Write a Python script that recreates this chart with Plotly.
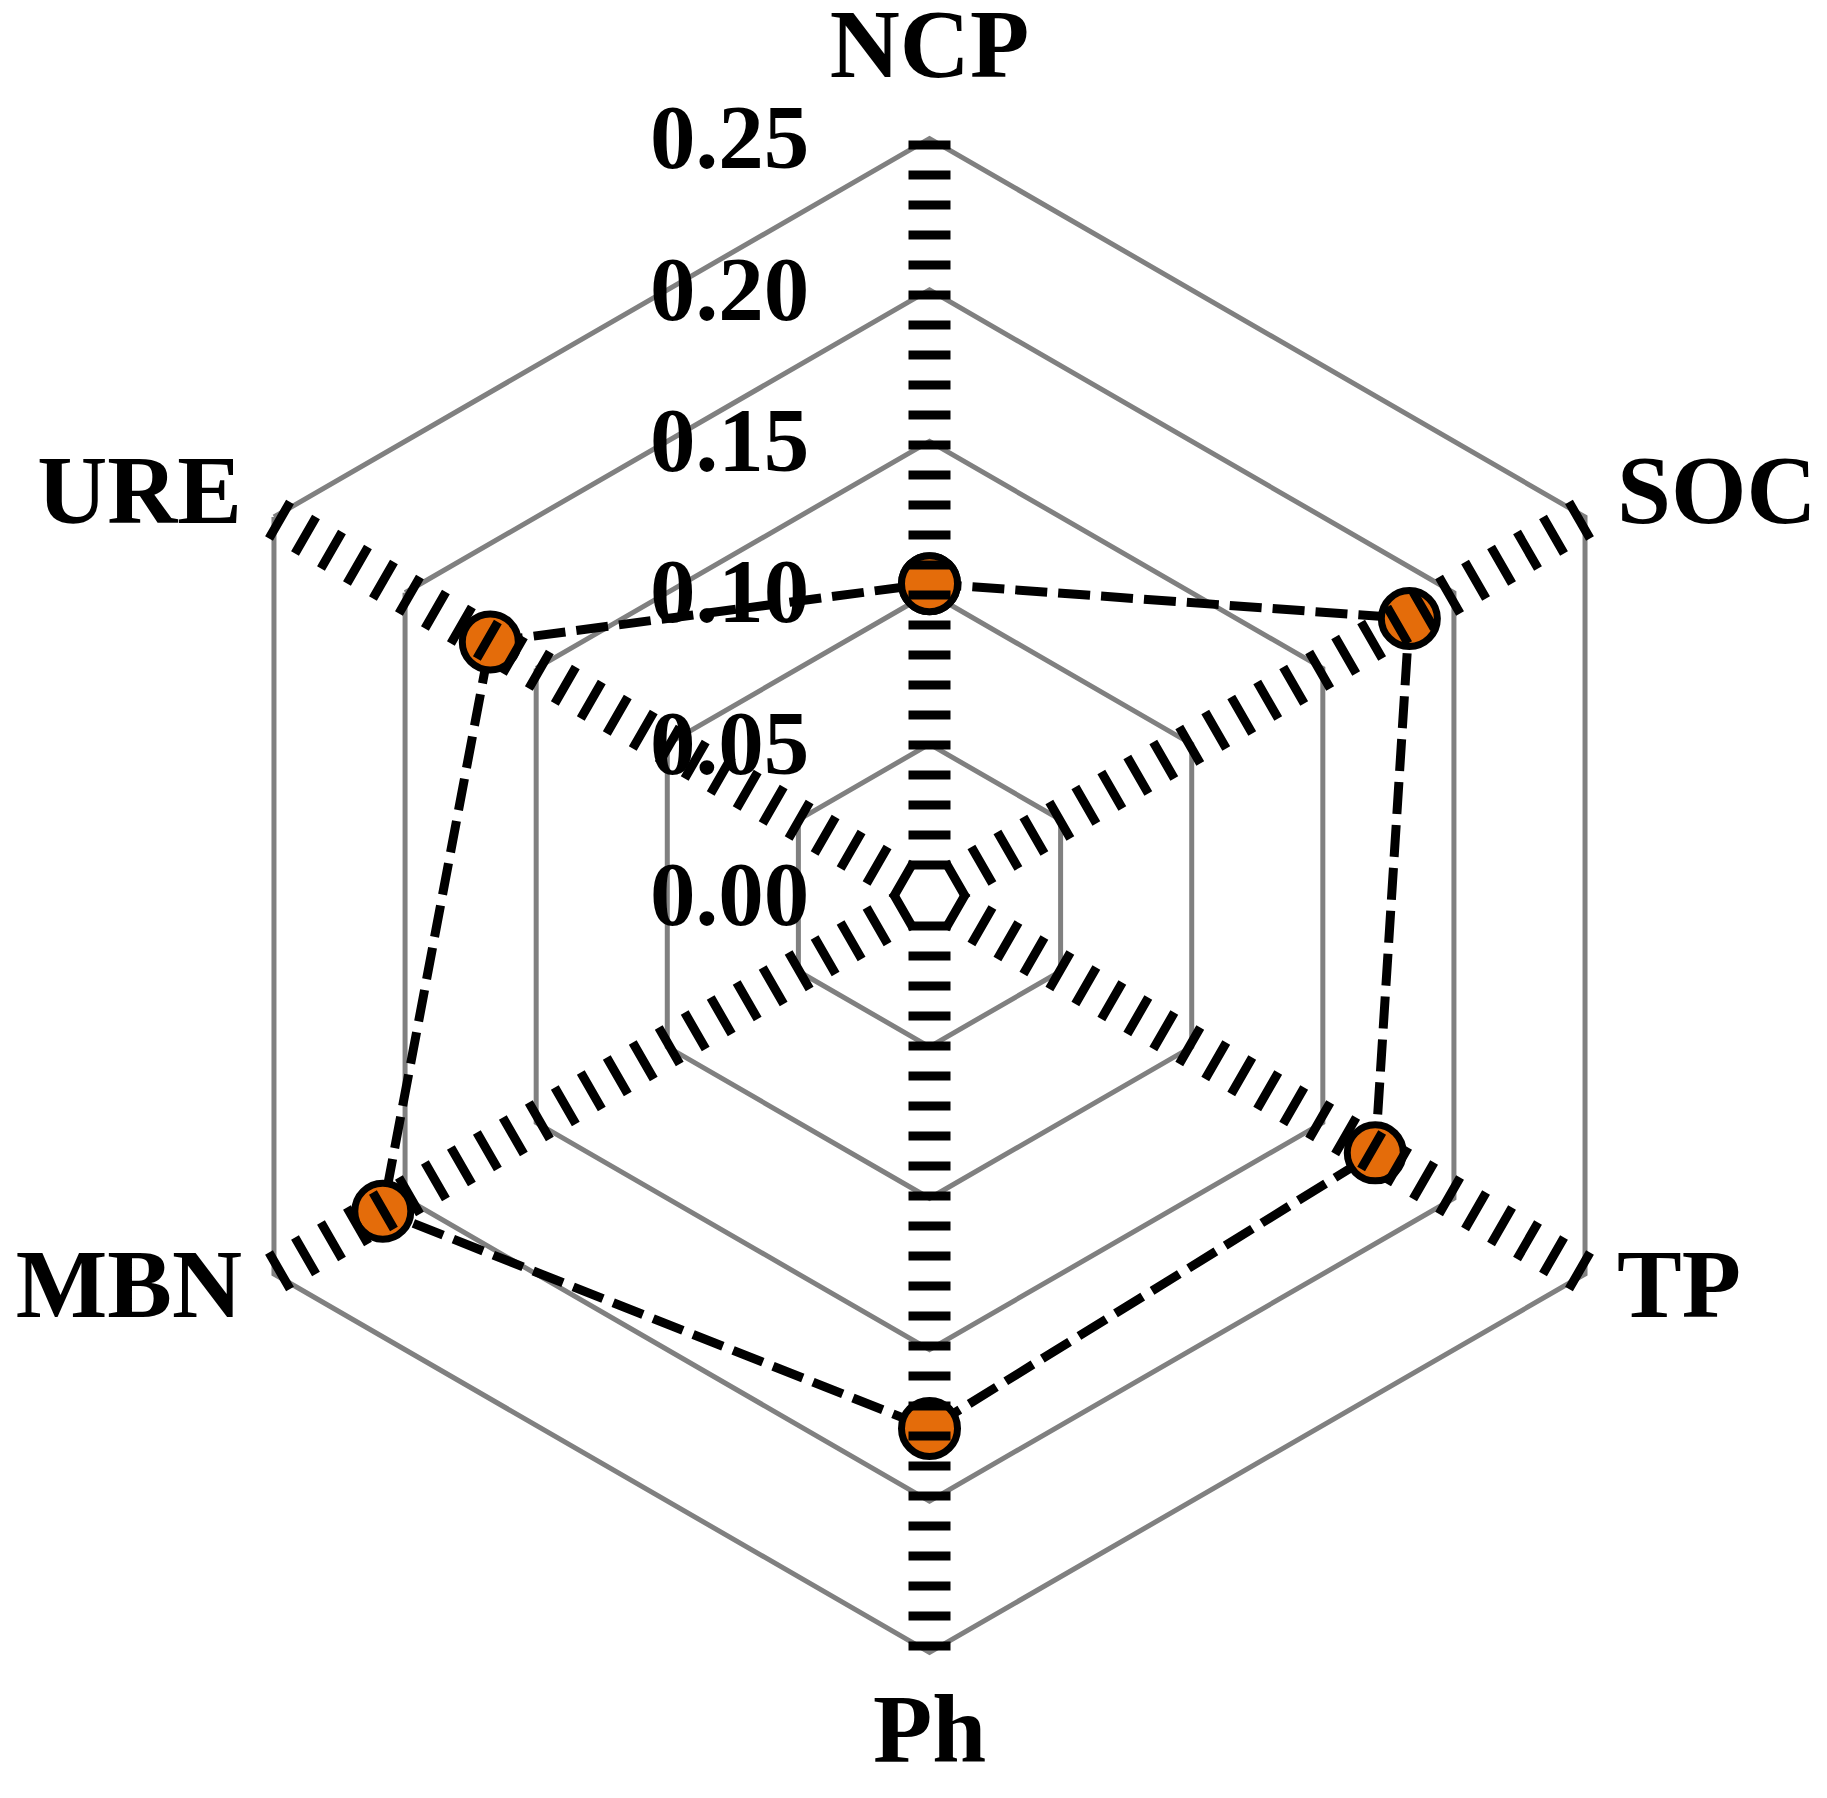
import plotly.graph_objects as go

categories = ["NCP", "SOC", "TP", "Ph", "MBN", "URE"]
values = [0.103, 0.183, 0.170, 0.176, 0.2085, 0.1675]
tick_vals = [0.00, 0.05, 0.10, 0.15, 0.20, 0.25]
tick_text = ["0.00", "0.05", "0.10", "0.15", "0.20", "0.25"]

r_outer = 0.25         # outermost hexagon
r_range_max = 0.27     # room for the category labels
spoke_start = 0.0086   # first dash begins a little off the centre
label_r = 0.2622       # category labels sit just outside the outer hexagon
label_pos = ["top center", "middle right", "middle right",
             "bottom center", "middle left", "middle left"]

FONT = "Liberation Serif, Times New Roman, serif"

fig = go.Figure()

# data trace (closed polygon)
fig.add_trace(go.Scatterpolar(
    r=values + values[:1],
    theta=categories + categories[:1],
    mode="lines+markers",
    line=dict(color="black", width=9, dash="32px,11px"),
    marker=dict(size=56, color="#E46C0A", line=dict(color="black", width=7)),
    showlegend=False,
    hoverinfo="skip",
))

# thick dashed spokes drawn above the data
sr, st = [], []
for c in categories:
    sr += [spoke_start, r_outer, None]
    st += [c, c, None]
fig.add_trace(go.Scatterpolar(
    r=sr, theta=st, mode="lines",
    line=dict(color="black", width=42, dash="9px,21px"),
    showlegend=False, hoverinfo="skip", connectgaps=False,
))

# category labels
fig.add_trace(go.Scatterpolar(
    r=[label_r] * len(categories), theta=categories, mode="text",
    text=categories, textposition=label_pos, cliponaxis=False,
    textfont=dict(family=FONT, size=97, color="black", weight="bold"),
    showlegend=False, hoverinfo="skip",
))

fig.update_layout(
    width=1827, height=1798,
    margin=dict(l=104, r=88, t=70, b=93),
    paper_bgcolor="white",
    plot_bgcolor="white",
    polar=dict(
        bgcolor="rgba(0,0,0,0)",
        gridshape="linear",
        domain=dict(x=[0, 1], y=[0, 1]),
        radialaxis=dict(
            range=[0, r_range_max],
            angle=90,
            side="counterclockwise",
            tickvals=tick_vals,
            ticktext=tick_text,
            tickangle=90,
            showline=False,
            showgrid=True,
            gridcolor="#808080",
            gridwidth=4.5,
            ticks="outside",
            ticklen=88,
            tickcolor="rgba(0,0,0,0)",
            tickfont=dict(family=FONT, size=91, color="black", weight="bold"),
            layer="below traces",
        ),
        angularaxis=dict(
            categoryorder="array",
            categoryarray=categories,
            rotation=90,
            direction="clockwise",
            showgrid=False,
            showline=False,
            ticks="",
            showticklabels=False,
        ),
    ),
)

fig.write_html("out.html")
